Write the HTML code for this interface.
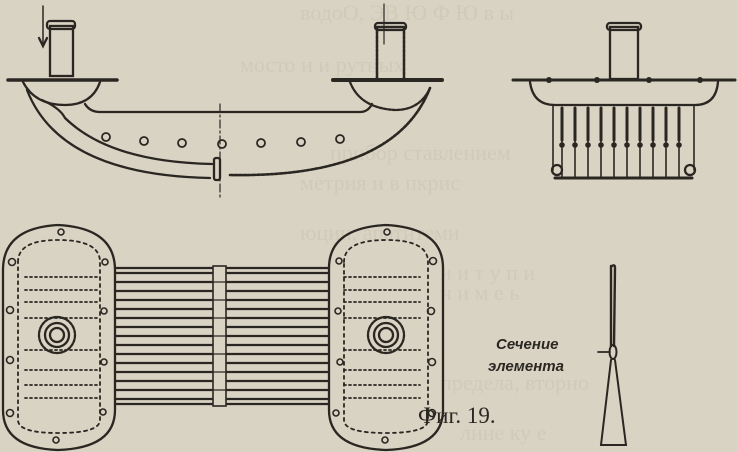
<!DOCTYPE html>
<html><head><meta charset="utf-8"><style>
html,body{margin:0;padding:0;background:#d9d3c3;}
svg{display:block}
</style></head><body>
<svg width="737" height="452" viewBox="0 0 737 452" xmlns="http://www.w3.org/2000/svg">
<rect width="737" height="452" fill="#d9d3c3"/>
<g fill="#c9c2b2" font-family="Liberation Serif, serif" font-size="22" opacity="0.5">
<text x="300" y="20">водоО, ЭВ Ю Ф Ю в ы</text>
<text x="240" y="72">мосто и и рутных</text>
<text x="330" y="160">прибор ставлением</text>
<text x="300" y="190">метрия и в пкрис</text>
<text x="300" y="240">юции, апатитеми</text>
<text x="440" y="280">и и т у п и</text>
<text x="440" y="300">н и м е ь</text>
<text x="440" y="390">предела, вторно</text>
<text x="460" y="440">лине ку е</text>
</g>
<g fill="none" stroke="#2a2722" stroke-width="2.3" stroke-linecap="round">
<line x1="43" y1="6" x2="43" y2="44" stroke-width="1.5"/>
<path d="M39 38 L43 46 L47 38"/>
<rect x="50" y="26" width="23" height="50"/>
<rect x="47" y="21" width="28" height="8" rx="3"/>
<line x1="8" y1="80" x2="117" y2="80" stroke-width="3.5"/>
<path d="M23 82 Q35 105 65 105 Q92 105 100 82"/>
<path d="M85 104 Q90 112 100 112 L360 112 Q368 112 372 104"/>
<path d="M27 90 Q60 175 210 178"/>
<path d="M42 100 Q60 108 65 118 Q110 162 212 164"/>
<path d="M230 175 Q395 178 430 88" stroke-dasharray="3 1.5" stroke-width="2.6"/>
<rect x="214" y="158" width="6" height="22" rx="2"/>
<line x1="220" y1="104" x2="220" y2="200" stroke-width="1.2" stroke-dasharray="8 3 2 3"/>
<g stroke-width="1.8">
<circle cx="106" cy="137" r="4"/><circle cx="144" cy="141" r="4"/><circle cx="182" cy="143" r="4"/><circle cx="222" cy="144" r="4"/><circle cx="261" cy="143" r="4"/><circle cx="301" cy="142" r="4"/><circle cx="340" cy="139" r="4"/>
</g>
<rect x="377" y="27" width="27" height="53" stroke-dasharray="3 1.5" stroke-width="2.6"/>
<rect x="375" y="23" width="31" height="7" rx="3"/>
<line x1="384" y1="4" x2="384" y2="44" stroke-width="1.2"/>
<line x1="333" y1="80" x2="443" y2="80" stroke-width="4" stroke-dasharray="4 1"/>
<path d="M350 82 Q360 108 395 110 Q420 110 430 88" stroke-dasharray="3 1.5"/>
<rect x="610" y="27" width="28" height="52"/>
<rect x="607" y="23" width="34" height="7" rx="3"/>
<line x1="513" y1="80" x2="735" y2="80" stroke-width="3"/>
<path d="M530 82 Q533 105 555 105 L695 105 Q716 105 718 82"/>
<g stroke-width="1.6">
<line x1="553" y1="105" x2="553" y2="170"/><line x1="694" y1="105" x2="694" y2="170"/>
<line x1="562" y1="108" x2="562" y2="178"/><line x1="575" y1="108" x2="575" y2="178"/><line x1="588" y1="108" x2="588" y2="178"/><line x1="601" y1="108" x2="601" y2="178"/><line x1="614" y1="108" x2="614" y2="178"/><line x1="627" y1="108" x2="627" y2="178"/><line x1="640" y1="108" x2="640" y2="178"/><line x1="653" y1="108" x2="653" y2="178"/><line x1="666" y1="108" x2="666" y2="178"/><line x1="679" y1="108" x2="679" y2="178"/>
</g>
<g stroke-width="3">
<line x1="562" y1="108" x2="562" y2="140"/><line x1="575" y1="108" x2="575" y2="140"/><line x1="588" y1="108" x2="588" y2="140"/><line x1="601" y1="108" x2="601" y2="140"/><line x1="614" y1="108" x2="614" y2="140"/><line x1="627" y1="108" x2="627" y2="140"/><line x1="640" y1="108" x2="640" y2="140"/><line x1="653" y1="108" x2="653" y2="140"/><line x1="666" y1="108" x2="666" y2="140"/><line x1="679" y1="108" x2="679" y2="140"/>
</g>
<path d="M555 178 L692 178" stroke-width="3"/>
<circle cx="557" cy="170" r="5"/><circle cx="690" cy="170" r="5"/>
<g fill="#2a2722" stroke="none">
<circle cx="562" cy="145" r="2.8"/><circle cx="575" cy="145" r="2.8"/><circle cx="588" cy="145" r="2.8"/><circle cx="601" cy="145" r="2.8"/><circle cx="614" cy="145" r="2.8"/><circle cx="627" cy="145" r="2.8"/><circle cx="640" cy="145" r="2.8"/><circle cx="653" cy="145" r="2.8"/><circle cx="666" cy="145" r="2.8"/><circle cx="679" cy="145" r="2.8"/>
<circle cx="549" cy="80" r="3"/><circle cx="597" cy="80" r="3"/><circle cx="649" cy="80" r="3"/><circle cx="700" cy="80" r="3"/>
</g>
<path d="M3 270 Q3 228 58 225 Q115 228 115 270 L115 410 Q115 448 58 450 Q3 448 3 410 Z"/>
<path d="M329 268 Q329 228 386 225 Q443 228 443 268 L443 410 Q443 448 386 450 Q329 448 329 410 Z"/>
<path d="M18 262 Q18 240 58 240 Q100 240 100 262 L100 420 Q100 433 58 433 Q18 433 18 420 Z" stroke-width="1.8" stroke-dasharray="3 4"/>
<path d="M344 262 Q344 240 386 240 Q428 240 428 262 L428 420 Q428 433 386 433 Q344 433 344 420 Z" stroke-width="1.8" stroke-dasharray="3 4"/>
<g stroke-width="1.8" stroke-dasharray="2 3">
<line x1="25" y1="277" x2="100" y2="277"/><line x1="25" y1="290" x2="100" y2="290"/><line x1="25" y1="302" x2="100" y2="302"/><line x1="25" y1="318" x2="100" y2="318"/><line x1="25" y1="350" x2="100" y2="350"/><line x1="25" y1="370" x2="100" y2="370"/><line x1="25" y1="385" x2="100" y2="385"/><line x1="25" y1="398" x2="100" y2="398"/>
<line x1="344" y1="277" x2="420" y2="277"/><line x1="344" y1="290" x2="420" y2="290"/><line x1="344" y1="302" x2="420" y2="302"/><line x1="344" y1="318" x2="420" y2="318"/><line x1="344" y1="350" x2="420" y2="350"/><line x1="344" y1="370" x2="420" y2="370"/><line x1="344" y1="385" x2="420" y2="385"/><line x1="344" y1="398" x2="420" y2="398"/>
</g>
<circle cx="57" cy="335" r="18" stroke-dasharray="3 1.5"/><circle cx="57" cy="335" r="12"/><circle cx="57" cy="335" r="7"/>
<circle cx="386" cy="335" r="18" stroke-dasharray="3 1.5"/><circle cx="386" cy="335" r="12"/><circle cx="386" cy="335" r="7"/>
<g stroke-width="1.6">
<circle cx="61" cy="232" r="3"/><circle cx="12" cy="262" r="3.5"/><circle cx="105" cy="262" r="3"/><circle cx="10" cy="310" r="3.5"/><circle cx="104" cy="311" r="3"/><circle cx="10" cy="360" r="3.5"/><circle cx="104" cy="362" r="3"/><circle cx="10" cy="413" r="3.5"/><circle cx="103" cy="412" r="3"/><circle cx="56" cy="440" r="3"/>
<circle cx="387" cy="232" r="3"/><circle cx="339" cy="261" r="3"/><circle cx="433" cy="261" r="3.5"/><circle cx="338" cy="311" r="3"/><circle cx="431" cy="311" r="3.5"/><circle cx="340" cy="362" r="3"/><circle cx="432" cy="362" r="3.5"/><circle cx="336" cy="413" r="3"/><circle cx="432" cy="413" r="3.5"/><circle cx="385" cy="440" r="3"/>
</g>
<g stroke-width="2.2">
<line x1="115" y1="268" x2="329" y2="268"/><line x1="115" y1="273" x2="329" y2="273"/><line x1="115" y1="282" x2="329" y2="282"/><line x1="115" y1="291" x2="329" y2="291"/><line x1="115" y1="300" x2="329" y2="300"/><line x1="115" y1="309" x2="329" y2="309"/><line x1="115" y1="318" x2="329" y2="318"/><line x1="115" y1="327" x2="329" y2="327"/><line x1="115" y1="336" x2="329" y2="336"/><line x1="115" y1="345" x2="329" y2="345"/><line x1="115" y1="354" x2="329" y2="354"/><line x1="115" y1="363" x2="329" y2="363"/><line x1="115" y1="372" x2="329" y2="372"/><line x1="115" y1="381" x2="329" y2="381"/><line x1="115" y1="390" x2="329" y2="390"/><line x1="115" y1="399" x2="329" y2="399"/><line x1="115" y1="404" x2="329" y2="404"/>
</g>
<rect x="213" y="266" width="13" height="140" fill="#d9d3c3" stroke-width="1.6"/>
<g stroke-width="1.2"><line x1="213" y1="282" x2="226" y2="282"/><line x1="213" y1="300" x2="226" y2="300"/><line x1="213" y1="318" x2="226" y2="318"/><line x1="213" y1="336" x2="226" y2="336"/><line x1="213" y1="354" x2="226" y2="354"/><line x1="213" y1="372" x2="226" y2="372"/><line x1="213" y1="390" x2="226" y2="390"/></g>
<path d="M612 266 Q615 264 615 268 L614 346 M611 266 L611 346" stroke-width="2.4"/>
<ellipse cx="613" cy="352" rx="3.5" ry="7" stroke-width="2"/>
<path d="M611 360 L601 445 L626 445 L615 360" stroke-width="2"/>
<line x1="598" y1="352" x2="610" y2="352" stroke-width="1.8"/>
</g>
<g fill="#2a2722">
<text x="496" y="349" font-family="Liberation Sans, sans-serif" font-weight="bold" font-style="italic" font-size="15">Сечение</text>
<text x="488" y="371" font-family="Liberation Sans, sans-serif" font-weight="bold" font-style="italic" font-size="15">элемента</text>
<text x="418" y="423" font-family="Liberation Serif, serif" font-size="23">Фиг. 19.</text>
</g>
</svg>
</body></html>
